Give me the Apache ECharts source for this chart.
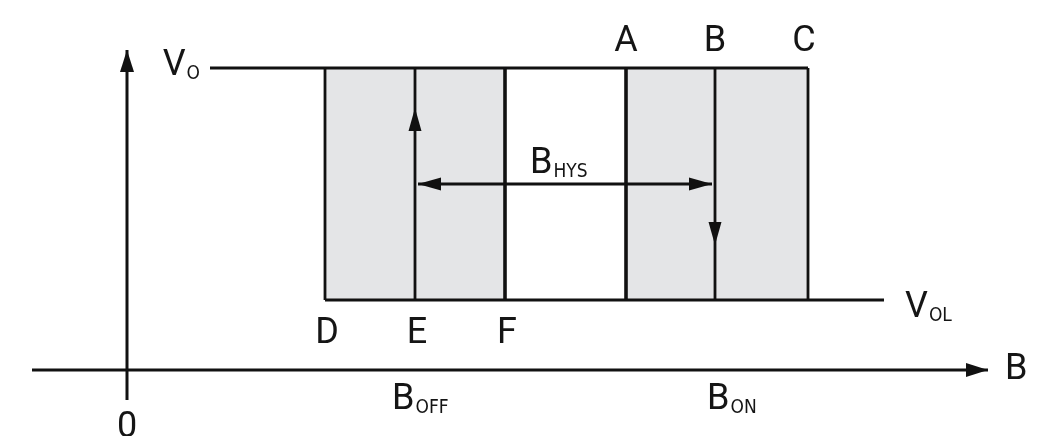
<!DOCTYPE html>
<html><head><meta charset="utf-8">
<script src="https://cdn.jsdelivr.net/npm/echarts@6/dist/echarts.min.js"></script>
<style>html,body{margin:0;padding:0;background:#fff}#c{width:1044px;height:436px}</style>
</head><body><div id="c"></div>
<script>
// ---- data (B units / V units, origin at axes crossing) ----
const pointNames = ['D', 'E', 'F', 'A', 'B', 'C'];
const pointB = [198, 288, 378, 499, 588, 681];
const levelNames = ['V_OL', 'V_O'];
const levelV = [70, 302];
const vOLineStartB = 83;
const vOLLineEndB = 757;
const axisBRange = [-95, 861];
const axisVRange = [-30, 320];
const hysLevelV = 186;
const hysB = [291, 585];
const upArrowTipV = 262;
const downArrowTipV = 125;
const shadedBands = [['D', 'F'], ['A', 'C']];

const bOf = n => pointB[pointNames.indexOf(n)];
const vOL = levelV[0], vO = levelV[1];

// segments: [b1, v1, b2, v2, weightClass]
const segments = [
  [axisBRange[0], 0, axisBRange[1], 0, 0],
  [0, axisVRange[0], 0, axisVRange[1], 0],
  [vOLineStartB, vO, bOf('C'), vO, 1],
  [bOf('D'), vOL, vOLLineEndB, vOL, 1],
  [bOf('D'), vOL, bOf('D'), vO, 1],
  [bOf('E'), vOL, bOf('E'), upArrowTipV - 10, 1],
  [bOf('E'), upArrowTipV - 10, bOf('E'), vO, 1],
  [bOf('F'), vOL, bOf('F'), vO, 2],
  [bOf('A'), vOL, bOf('A'), vO, 2],
  [bOf('B'), vOL, bOf('B'), vO, 1],
  [bOf('C'), vOL, bOf('C'), vO, 1],
  [hysB[0], hysLevelV, hysB[1], hysLevelV, 1]
];
const widths = [3, 2.8, 3.6];

// arrowheads: [tipB, tipV, dirB, dirV, sizeClass]
const arrows = [
  [0, axisVRange[1], 0, 1, 0],
  [axisBRange[1], 0, 1, 0, 0],
  [bOf('E'), upArrowTipV, 0, 1, 1],
  [bOf('B'), downArrowTipV, 0, -1, 1],
  [hysB[0], hysLevelV, -1, 0, 1],
  [hysB[1], hysLevelV, 1, 0, 1]
];
const arrowSizes = [[22, 7], [23, 6.5]];

// texts: [b, v, text, align]
const texts = [
  ...pointNames.map((n, i) => [pointB[i] + (i < 3 ? 2 : (n === 'C' ? -4 : 0)), i < 3 ? 36 : 328, n, 'center']),
  [73, vO + 2, 'V{s|O}', 'right'],
  [778, vOL - 8, 'V{s|OL}', 'left'],
  [878, 0, 'B', 'left'],
  [0, -58, '0', 'center'],
  [265, -30, 'B{s|OFF}', 'left'],
  [580, -30, 'B{s|ON}', 'left'],
  [403, 206, 'B{s|HYS}', 'left']
];

const FONT = '"Liberation Sans Narrow", "Roboto", sans-serif';
const chart = echarts.init(document.getElementById('c'), null, {renderer: 'canvas'});
chart.setOption({
  animation: false,
  backgroundColor: '#ffffff',
  grid: {left: 0, right: 0, top: 0, bottom: 0},
  xAxis: {type: 'value', min: -127, max: 917, show: false},
  yAxis: {type: 'value', min: -66, max: 370, show: false},
  series: [
    {
      type: 'custom', silent: true, z: 1,
      data: shadedBands.map(b => [bOf(b[0]), vOL, bOf(b[1]), vO]),
      renderItem: (p, api) => {
        const a = api.coord([api.value(0), api.value(3)]);
        const b = api.coord([api.value(2), api.value(1)]);
        return {type: 'rect', shape: {x: a[0], y: a[1], width: b[0] - a[0], height: b[1] - a[1]}, style: {fill: '#e4e5e7'}};
      }
    },
    {
      type: 'custom', silent: true, z: 2,
      data: segments,
      renderItem: (p, api) => {
        const a = api.coord([api.value(0), api.value(1)]);
        const b = api.coord([api.value(2), api.value(3)]);
        return {type: 'line', shape: {x1: a[0], y1: a[1], x2: b[0], y2: b[1]},
          style: {stroke: '#111111', lineWidth: widths[api.value(4)], lineCap: 'butt'}};
      }
    },
    {
      type: 'custom', silent: true, z: 3,
      data: arrows,
      renderItem: (p, api) => {
        const t = api.coord([api.value(0), api.value(1)]);
        const dx = api.value(2), dy = -api.value(3);
        const s = arrowSizes[api.value(4)];
        const bx = t[0] - dx * s[0], by = t[1] - dy * s[0];
        const px = -dy, py = dx;
        return {type: 'polygon', shape: {points: [[t[0], t[1]], [bx + px * s[1], by + py * s[1]], [bx - px * s[1], by - py * s[1]]]},
          style: {fill: '#111111'}};
      }
    },
    {
      type: 'custom', silent: true, z: 4,
      data: texts,
      renderItem: (p, api) => {
        const t = texts[p.dataIndex];
        const c = api.coord([t[0], t[1]]);
        return {type: 'text', x: c[0], y: c[1],
          style: {text: t[2], fill: '#151515', font: '36px ' + FONT, fontFamily: FONT, fontSize: 36,
            align: t[3], verticalAlign: 'middle',
            rich: {s: {fontSize: 19, fontFamily: 'DejaVu Sans Condensed', fontWeight: 'normal', fill: '#151515', padding: [16, 0, 0, 1]}}}};
      }
    }
  ]
});
</script></body></html>
